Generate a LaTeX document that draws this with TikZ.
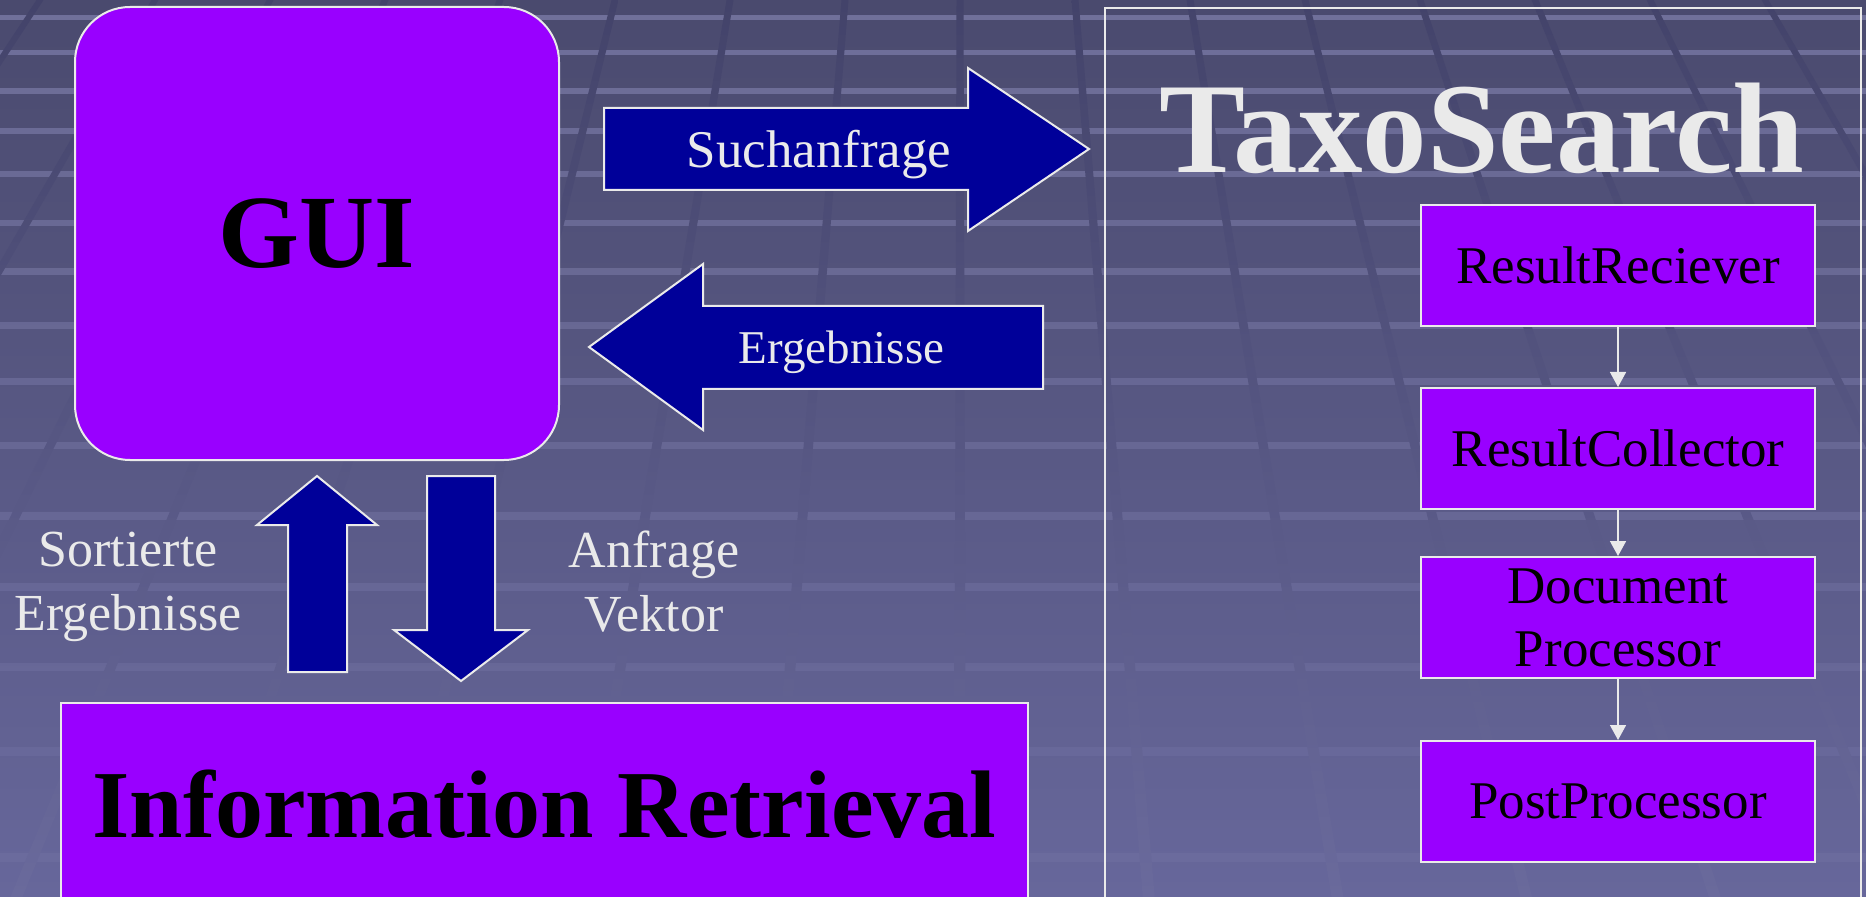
\documentclass[tikz,border=0pt]{standalone}
\usepackage{fontspec}
\setmainfont{Liberation Serif}
\usetikzlibrary{arrows.meta, positioning}
\definecolor{bgtop}{HTML}{4A4A6E}
\definecolor{bgbot}{HTML}{67679B}
\definecolor{tile}{HTML}{9090C0}
\definecolor{gaptop}{HTML}{43436A}
\definecolor{gapbot}{HTML}{6A6A9C}
\definecolor{purp}{HTML}{9900FF}
\definecolor{navy}{HTML}{000099}
\definecolor{offwhite}{HTML}{EAEAEA}

\begin{document}
\begin{tikzpicture}[x=0.5pt, y=-0.5pt,
    box/.style={draw=offwhite, line width=1pt, fill=purp, text=black, minimum width=197pt, minimum height=60.5pt, inner sep=0pt, align=center, font=\fontsize{26.5}{31.5}\selectfont},
    blockarrow/.style={draw=offwhite, line width=1pt, fill=navy},
    lbl/.style={text=offwhite, align=center, inner sep=0pt},
    flow/.style={draw=offwhite, line width=0.8pt, -{Triangle[length=7.5pt, width=8pt]}}]
  \useasboundingbox (0,0) rectangle (1866,897);
  \clip (0,0) rectangle (1866,897);
  % background tiles
  \shade[top color=bgtop, bottom color=bgbot] (0,0) rectangle (1866,897);
  \foreach \hy [count=\i] in {15,50,88,128,171,220,268,322,378,442,512,583,663,747,853}{
    \pgfmathsetmacro\op{0.57-0.03*\i}
    \fill[tile, opacity=\op] (0,\hy) rectangle (1866,\hy+5+0.25*\i);
  }
  \foreach \k in {-9,...,7}{
    \pgfmathsetmacro\xa{1075+115*\k}
    \pgfmathsetmacro\xb{960+(\xa-960)*1.641}
    \shade[top color=gaptop, bottom color=gapbot] (\xa-3.5,0) -- (\xa+3.5,0) -- (\xb+6,897) -- (\xb-6,897) -- cycle;
  }

  \node[draw=offwhite, line width=1pt, fill=purp, rounded corners=27.5pt, minimum width=242pt, minimum height=226.5pt, font=\fontsize{52}{60}\selectfont\bfseries] (gui) at (317,233.5) {GUI};
  \node[draw=offwhite, line width=1pt, fill=purp, minimum width=483.5pt, minimum height=101.5pt, font=\fontsize{48}{56}\selectfont\bfseries] (ir) at (544.5,804.5) {Information Retrieval};

  % search request / results
  \draw[blockarrow] (604,108) -- (968,108) -- (968,68) -- (1089,149) -- (968,231) -- (968,190) -- (604,190) -- cycle;
  \node[lbl, anchor=base, font=\fontsize{26.5}{32}\selectfont] (query) at (819,168) {Suchanfrage};
  \draw[blockarrow] (1043,306) -- (703,306) -- (703,264) -- (589,347) -- (703,430) -- (703,389) -- (1043,389) -- cycle;
  \node[lbl, anchor=base, font=\fontsize{23.5}{28}\selectfont] (results) at (841.5,364) {Ergebnisse};

  \draw[blockarrow] (288,672) -- (288,525) -- (257,525) -- (317,476) -- (377,525) -- (347,525) -- (347,672) -- cycle;
  \draw[blockarrow] (427,476) -- (495,476) -- (495,630) -- (528,630) -- (461,681) -- (394,630) -- (427,630) -- cycle;
  \node[lbl, font=\fontsize{26}{32}\selectfont] (sorted) at (128,587) {Sortierte\\Ergebnisse};
  \node[lbl, font=\fontsize{26}{32}\selectfont] (vector) at (654,582) {Anfrage\\Vektor};

  % TaxoSearch
  \node[draw=offwhite, line width=1pt, minimum width=378pt, minimum height=449pt, anchor=north west, inner sep=0pt] (frame) at (1104,7) {};
  \node[lbl, anchor=base, font=\fontsize{64.5}{72}\selectfont\bfseries] (taxo) at (1482,173) {TaxoSearch};
  \node[box, anchor=north] (recv) at (1618,204) {ResultReciever};
  \node[box, below=30pt of recv] (coll) {ResultCollector};
  \node[box, below=23pt of coll] (docp) {Document\\Processor};
  \node[box, below=30.5pt of docp] (post) {PostProcessor};
  \foreach \a/\b in {recv/coll, coll/docp, docp/post}
    \draw[flow] (\a) -- (\b);
\end{tikzpicture}
\end{document}
